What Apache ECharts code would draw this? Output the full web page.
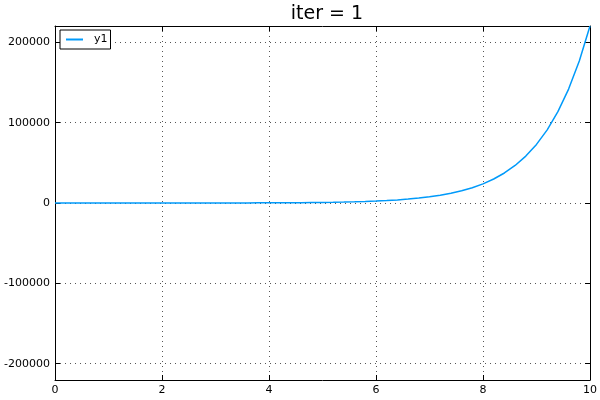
<!DOCTYPE html>
<html>
<head>
<meta charset="utf-8">
<script src="https://cdn.jsdelivr.net/npm/echarts@6/dist/echarts.min.js"></script>
<style>html,body{margin:0;padding:0;background:#fff}#c{width:600px;height:400px}</style>
</head>
<body>
<div id="c"></div>
<script>
var xs = [0,0.2,0.4,0.6,0.8,1,1.2,1.4,1.6,1.8,2,2.2,2.4,2.6,2.8,3,3.2,3.4,3.6,3.8,4,4.2,4.4,4.6,4.8,5,5.2,5.4,5.6,5.8,6,6.2,6.4,6.6,6.8,7,7.2,7.4,7.6,7.8,8,8.2,8.4,8.6,8.8,9,9.2,9.4,9.6,9.8,10];
var ys = [0,0.24,0.6,1.1,1.8,2.7,4,5.7,7.9,10.9,14.8,19.9,26.5,35,46,60,78.5,102,132,170,218,280,358,458,583,742,943,1196,1514,1916,2421,3055,3852,4852,6105,7676,9644,12106,15186,19037,23848,29856,37355,46712,58381,72928,91054,113631,141742,176731,220265];
var yTicks = [-200000,-100000,0,100000,200000];
var yLimit = [-220265, 220265];
var xTicks = [0,2,4,6,8,10];
var seriesName = 'y1';
var titleText = 'iter = 1';

var data = xs.map(function(x,i){return [x, ys[i]];});
var FONT = 'DejaVu Sans';
var chart = echarts.init(document.getElementById('c'), null, {renderer:'canvas'});
var gridLine = {show:true, lineStyle:{color:'#555', type:[1,4], width:1}};
chart.setOption({
  animation:false,
  backgroundColor:'#fff',
  title:{text:titleText, left:322, textAlign:'center', top:0, textStyle:{fontFamily:FONT, fontSize:19, fontWeight:'normal', color:'#000'}},
  legend:{left:60, top:30, z:20, orient:'vertical', backgroundColor:'#fff', borderColor:'#000', borderWidth:1, borderRadius:0, padding:[3,3,3,6], itemWidth:17, itemHeight:2, itemGap:0,
    lineStyle:{opacity:0},
    textStyle:{fontFamily:FONT, fontSize:11, lineHeight:13, color:'#000', padding:[0,0,0,6]},
    data:[{name:seriesName, icon:'rect', itemStyle:{color:'#009AFA', borderWidth:0}}]},
  grid:{left:55, right:10, top:26, bottom:20, containLabel:false},
  xAxis:[
    {type:'value', min:0, max:10, interval:2, position:'bottom',
     axisLine:{show:true, onZero:false, lineStyle:{color:'#000', width:1}},
     axisTick:{show:true, inside:true, length:5, lineStyle:{color:'#000'}},
     axisLabel:{fontFamily:FONT, fontSize:11, color:'#000', margin:5},
     splitLine:gridLine},
    {type:'value', min:0, max:10, interval:2, position:'top',
     axisLine:{show:true, onZero:false, lineStyle:{color:'#000', width:1}},
     axisTick:{show:true, inside:true, length:5, lineStyle:{color:'#000'}},
     axisLabel:{show:false}, splitLine:{show:false}}
  ],
  yAxis:[
    {type:'value', min:yLimit[0], max:yLimit[1], position:'left',
     axisLine:{show:true, onZero:false, lineStyle:{color:'#000', width:1}},
     axisTick:{show:true, inside:true, length:5, lineStyle:{color:'#000'}, customValues:yTicks},
     axisLabel:{fontFamily:FONT, fontSize:11, color:'#000', margin:5, customValues:yTicks, formatter:function(v){return String(v);}},
     splitLine:gridLine},
    {type:'value', min:yLimit[0], max:yLimit[1], position:'right',
     axisLine:{show:true, onZero:false, lineStyle:{color:'#000', width:1}},
     axisTick:{show:true, inside:true, length:5, lineStyle:{color:'#000'}, customValues:yTicks},
     axisLabel:{show:false}, splitLine:{show:false}}
  ],
  series:[{
    name:seriesName, type:'line', data:data, showSymbol:false, symbol:'none', xAxisIndex:0, yAxisIndex:0,
    lineStyle:{color:'#009AFA', width:1.5}, itemStyle:{color:'#009AFA'}
  }]
});
</script>
</body>
</html>
